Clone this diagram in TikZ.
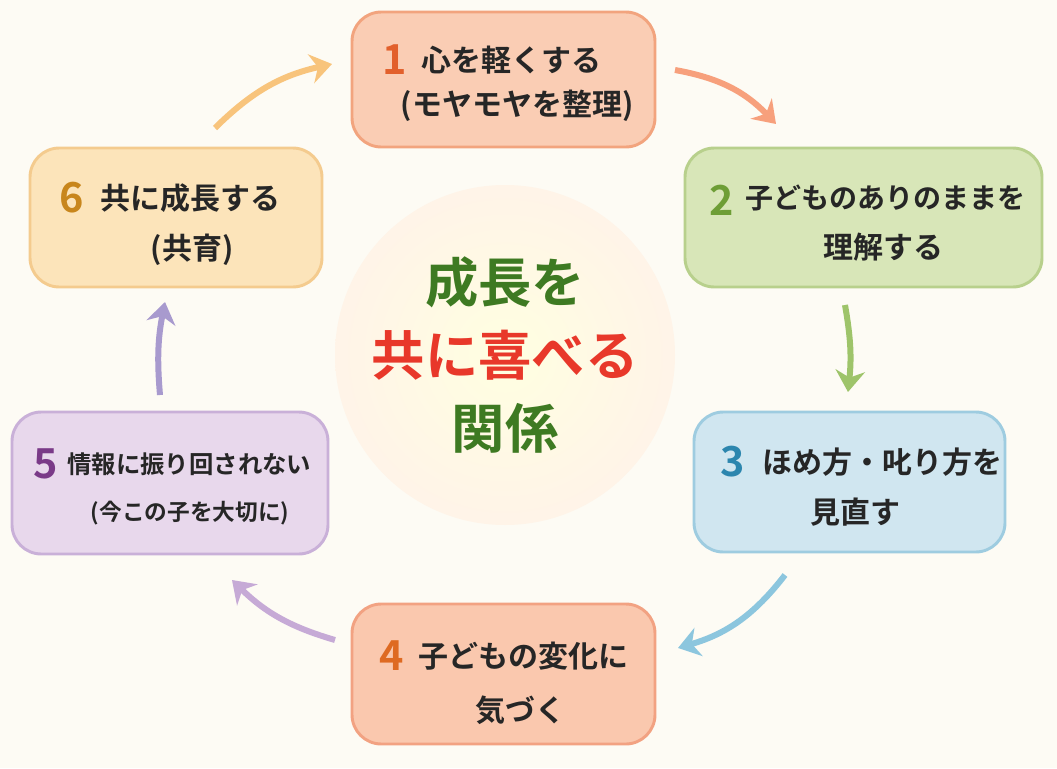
\documentclass[tikz,border=0pt]{standalone}
\usepackage{fontspec}
\setmainfont{Noto Sans CJK JP}[BoldFont={* Bold}]
\usetikzlibrary{arrows.meta}
\definecolor{bg}{HTML}{FDFBF4}
\definecolor{f1}{HTML}{FACDB4}\definecolor{b1}{HTML}{F2A47E}\definecolor{n1}{HTML}{E2602C}
\definecolor{f2}{HTML}{D8E6B8}\definecolor{b2}{HTML}{B8D08C}\definecolor{n2}{HTML}{6E9E36}
\definecolor{f3}{HTML}{D0E6F0}\definecolor{b3}{HTML}{9ECCE0}\definecolor{n3}{HTML}{2C86AE}
\definecolor{f4}{HTML}{FAC8AE}\definecolor{b4}{HTML}{F2A282}\definecolor{n4}{HTML}{DE6A22}
\definecolor{f5}{HTML}{E8D8EC}\definecolor{b5}{HTML}{C9B0D8}\definecolor{n5}{HTML}{7A3A88}
\definecolor{f6}{HTML}{FCE4BA}\definecolor{b6}{HTML}{F4CB8E}\definecolor{n6}{HTML}{C8861C}
\definecolor{cg}{HTML}{3E7A22}\definecolor{cr}{HTML}{E8382A}
\definecolor{a1}{HTML}{F7A07C}\definecolor{a2}{HTML}{9EC46A}\definecolor{a3}{HTML}{8CC6DE}
\definecolor{a4}{HTML}{C6AAD6}\definecolor{a5}{HTML}{A89ACE}\definecolor{a6}{HTML}{F8C47C}
\begin{document}
\begin{tikzpicture}[x=0.75pt,y=-0.75pt,
 box/.style={draw, line width=2.2pt, rounded corners=22pt, inner sep=0pt},
 txt/.style={font=\bfseries\fontsize{22.5}{26}\selectfont, text=black!85, inner sep=0pt},
 num/.style={font=\bfseries\fontsize{31}{32}\selectfont, inner sep=0pt},
 arr/.style={line width=4.5pt, -{Stealth[length=16pt,width=22pt]}},
 ctr/.style={font=\bfseries\fontsize{40}{44}\selectfont, inner sep=0pt}]
\fill[bg] (0,0) rectangle (1057,768);
\useasboundingbox (0,0) rectangle (1057,768);
\node[circle, minimum size=255pt, inner sep=0pt, inner color=yellow!12!white, outer color=orange!9!white] (c) at (505,355) {};
\node[ctr,text=cg] (c1) at (505,282) {成長を};
\node[ctr,text=cr] (c2) at (505,355) {共に喜べる};
\node[ctr,text=cg] (c3) at (505,428) {関係};
% boxes
\draw[box,draw=b1,fill=f1] (352,12) rectangle (655,147);
\draw[box,draw=b2,fill=f2] (685,148) rectangle (1042,287);
\draw[box,draw=b3,fill=f3] (694,412) rectangle (1005,552);
\draw[box,draw=b4,fill=f4] (352,604) rectangle (655,744);
\draw[box,draw=b5,fill=f5] (12,412) rectangle (328,554);
\draw[box,draw=b6,fill=f6] (30,148) rectangle (322,287);
% texts
\node[num,text=n1] (n1) at (395,60) {1};
\node[txt,anchor=west] (t1a) at (421,60) {心を軽くする};
\node[txt] (t1b) at (517,106) {(モヤモヤを整理)};
\node[num,text=n2] (n2) at (722,200) {2};
\node[txt,anchor=west,font=\bfseries\fontsize{21}{24}\selectfont] (t2a) at (745,198) {子どものありのままを};
\node[txt] (t2b) at (883,247) {理解する};
\node[num,text=n3] (n3) at (733,462) {3};
\node[txt,anchor=west] (t3a) at (762,462) {ほめ方・叱り方を};
\node[txt] (t3b) at (855,512) {見直す};
\node[num,text=n4] (n4) at (392,656) {4};
\node[txt,anchor=west] (t4a) at (418,656) {子どもの変化に};
\node[txt] (t4b) at (520,710) {気づく};
\node[num,text=n5] (n5) at (46,464) {5};
\node[txt,anchor=west,font=\bfseries\fontsize{18.3}{21}\selectfont] (t5a) at (67,464) {情報に振り回されない};
\node[txt,font=\bfseries\fontsize{17}{20}\selectfont] (t5b) at (190,513) {(今この子を大切に)};
\node[num,text=n6] (n6) at (72,198) {6};
\node[txt,anchor=west] (t6a) at (100,198) {共に成長する};
\node[txt] (t6b) at (192,250) {(共育)};
% arrows
\coordinate (p1s) at (675,70); \coordinate (p1e) at (776,124);
\coordinate (p2s) at (845,305); \coordinate (p2e) at (848,392);
\coordinate (p3s) at (785,575); \coordinate (p3e) at (678,648);
\coordinate (p4s) at (335,640); \coordinate (p4e) at (232,580);
\coordinate (p5s) at (160,395); \coordinate (p5e) at (165,302);
\coordinate (p6s) at (215,128); \coordinate (p6e) at (332,64);
\draw[arr,a1] (p1s) to[bend left=18] (p1e);
\draw[arr,a2] (p2s) to[bend left=8] (p2e);
\draw[arr,a3] (p3s) to[bend left=18] (p3e);
\draw[arr,a4] (p4s) to[bend left=14] (p4e);
\draw[arr,a5] (p5s) to[bend left=8] (p5e);
\draw[arr,a6] (p6s) to[bend left=16] (p6e);
\end{tikzpicture}
\end{document}
